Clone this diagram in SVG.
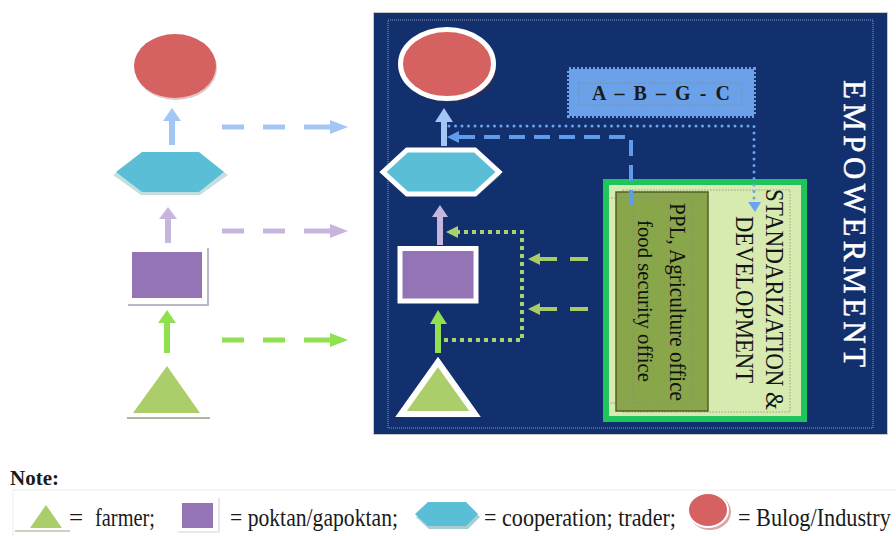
<svg xmlns="http://www.w3.org/2000/svg" width="896" height="536" viewBox="0 0 896 536">
<style>
.serif{font-family:"Liberation Serif","Times New Roman",serif}
.wb{stroke:#ffffff;stroke-width:5}
.frame{fill:none;stroke:#8c8c8c;stroke-width:0.8;stroke-dasharray:1.5 1.5}
.leg{font-family:"Liberation Serif","Times New Roman",serif;font-size:25px;fill:#1a1a1a}
</style>
<rect width="896" height="536" fill="#ffffff"/>

<!-- Empowerment panel -->
<g id="panel">
<rect x="373.5" y="12.5" width="514" height="422" fill="#13306e" stroke="#c8c8c8" stroke-width="1"/>
<rect x="388" y="20" width="485" height="408" fill="none" stroke="#8f98b5" stroke-width="1" stroke-dasharray="1 1"/>
<text class="serif" transform="translate(844,80) rotate(90)" font-size="31" fill="#ffffff" stroke="#ffffff" stroke-width="0.5" textLength="287" lengthAdjust="spacing">EMPOWERMENT</text>
</g>

<!-- Left column nodes -->
<g id="left-industry">
<ellipse cx="176" cy="68" rx="41" ry="32" fill="#c9a0a0" opacity="0.6"/>
<ellipse cx="175" cy="66" rx="41" ry="32" fill="#d66161"/>
</g>
<g id="left-cooperation">
<polygon points="113,175 141,155 200,155 228,175 200,195 141,195" fill="#9fc8cc" opacity="0.6"/>
<polygon points="116,172 142,152 199,152 224,172 199,192 142,192" fill="#5bbed7"/>
</g>
<g id="left-poktan">
<polyline points="128,305 208,305 208,248" fill="none" stroke="#c0b4cc" stroke-width="2"/>
<rect x="132" y="252" width="70" height="46" fill="#9474b4"/>
</g>
<g id="left-farmer">
<line x1="127" y1="418" x2="210" y2="418" stroke="#a9b89a" stroke-width="2"/>
<polygon points="167,366 133,413 200,413" fill="#abcd6a"/>
</g>

<!-- Right column nodes (inside panel) -->
<g id="industry">
<ellipse cx="449" cy="67" rx="47" ry="35" fill="#4a2a45"/>
<ellipse cx="447" cy="64" rx="46.5" ry="34.5" fill="#d66161" class="wb"/>
</g>
<g id="cooperation">
<polygon points="385,175 409,154 477,154 501,175 477,196 409,196" fill="#2e6e84"/>
<polygon points="383,172 407,150 475,150 499,172 475,194 407,194" fill="#5bbed7" class="wb"/>
</g>
<g id="poktan">
<rect x="402" y="250" width="76" height="53" fill="#3a3258"/>
<rect x="400" y="248.5" width="76" height="52.5" fill="#9474b4" class="wb"/>
</g>
<g id="farmer">
<polygon points="440,365 404,418 476,418" fill="#2c3a4e"/>
<polygon points="438,362 401,414 475,414" fill="#abcd6a" stroke="#ffffff" stroke-width="6" stroke-linejoin="miter"/>
</g>

<g id="abgc">
<rect x="569" y="69" width="185" height="47" fill="#6aa1e8" stroke="#6aa1e8" stroke-width="4" stroke-dasharray="2 2"/>
<rect x="579" y="83" width="163" height="22" class="frame" stroke="#666"/>
<text class="serif" x="592" y="100" font-size="20" font-weight="bold" fill="#1a1a1a" textLength="138" lengthAdjust="spacing">A – B – G - C</text>
</g>

<g id="standardization">
<rect x="606" y="182" width="198" height="237" fill="#d7eaaf" stroke="#1ec45c" stroke-width="6"/>
<rect x="623" y="190" width="167" height="222" class="frame"/>
<rect x="616" y="192" width="92" height="219" fill="#8aa64b" stroke="#4f5f28" stroke-width="1.5"/>
<rect x="608" y="198" width="84" height="205" class="frame"/>
<line x1="633" y1="198" x2="633" y2="403" class="frame"/>
<text class="serif" transform="translate(766,189) rotate(90)" font-size="26" fill="#141414" textLength="221" lengthAdjust="spacingAndGlyphs">STANDARIZATION &amp;</text>
<text class="serif" transform="translate(736,216) rotate(90)" font-size="26" fill="#141414" textLength="167" lengthAdjust="spacingAndGlyphs">DEVELOPMENT</text>
<text class="serif" transform="translate(670,203) rotate(90)" font-size="23" fill="#111111" textLength="198" lengthAdjust="spacingAndGlyphs">PPL, Agriculture office</text>
<text class="serif" transform="translate(638,220) rotate(90)" font-size="22" fill="#111111" textLength="162" lengthAdjust="spacingAndGlyphs">food security office</text>
</g>

<!-- Connectors -->
<g id="connectors">
<!-- left block arrows -->
<polygon points="169,145 169,121 163,121 172,108 181,121 175,121 175,145" fill="#a3c6f5"/>
<polygon points="165,243 165,219 159,219 168,207 177,219 171,219 171,243" fill="#c6b6de"/>
<polygon points="164,353 164,323 158,323 167,310 176,323 170,323 170,353" fill="#90e04f"/>
<!-- left dashed arrows -->
<line x1="222" y1="127" x2="332" y2="127" stroke="#a3c6f5" stroke-width="5" stroke-dasharray="22 19 22 19 28"/>
<polygon points="330,120 348,127 330,134" fill="#a3c6f5"/>
<line x1="222" y1="231" x2="332" y2="231" stroke="#c6b6de" stroke-width="5" stroke-dasharray="22 19 22 19 28"/>
<polygon points="330,224 348,231 330,238" fill="#c6b6de"/>
<line x1="222" y1="340" x2="332" y2="340" stroke="#90e04f" stroke-width="5" stroke-dasharray="22 19 22 19 28"/>
<polygon points="330,333 348,340 330,347" fill="#90e04f"/>
<!-- right block arrows -->
<polygon points="441,146 441,122 435,122 444,108 453,122 447,122 447,146" fill="#a3c6f5"/>
<polygon points="437,245 437,217 432,217 440,205 448,217 443,217 443,245" fill="#c6b6de"/>
<polygon points="435,353 435,324 430,324 438,310 447,324 441,324 441,353" fill="#90e04f"/>
<!-- dotted blue -->
<path d="M449 126 H754 V203" fill="none" stroke="#6aa4ee" stroke-width="3" stroke-linecap="round" stroke-dasharray="0 6.5"/>
<polygon points="748,202 761,202 755,212" fill="#6aa4ee"/>
<!-- dashed blue -->
<path d="M631 206 V137 H458" fill="none" stroke="#5e9ce9" stroke-width="4" stroke-dasharray="16 9"/>
<polygon points="447,137 459,131 459,143" fill="#5e9ce9"/>
<!-- dotted green -->
<path d="M456 232 H522 V340 H443" fill="none" stroke="#a9d36f" stroke-width="4" stroke-dasharray="4 4"/>
<polygon points="446,232 458,226 458,238" fill="#a9d36f"/>
<!-- dashed green from box -->
<line x1="536" y1="259" x2="588" y2="259" stroke="#a7cc66" stroke-width="4" stroke-dasharray="21 13 18"/>
<polygon points="528,259 540,253 540,265" fill="#a7cc66"/>
<line x1="536" y1="309" x2="588" y2="309" stroke="#a7cc66" stroke-width="4" stroke-dasharray="21 13 18"/>
<polygon points="528,309 540,303 540,315" fill="#a7cc66"/>
</g>

<!-- Legend -->
<g id="legend">
<text class="serif" x="10" y="485" font-size="21" font-weight="bold" fill="#1a1a1a">Note:</text>
<path d="M13 536 V490 H896" fill="none" stroke="#ececec" stroke-width="1"/>
<line x1="15" y1="531" x2="70" y2="531" stroke="#b7c4a8" stroke-width="1.5"/>
<polygon points="46,505 30,528 62,528" fill="#abcd6a"/>
<text class="leg"><tspan x="69" y="526">=</tspan><tspan x="95" y="526" textLength="60" lengthAdjust="spacingAndGlyphs">farmer;</tspan></text>
<polyline points="178,532 219,532 219,498" fill="none" stroke="#d8d4de" stroke-width="1.2"/>
<rect x="182" y="503" width="31" height="25" fill="#9474b4"/>
<text class="leg" x="230" y="526" textLength="168" lengthAdjust="spacingAndGlyphs">= poktan/gapoktan;</text>
<polygon points="416,517 429,506 468,506 480,517 468,529 429,529" fill="#a8cdd2"/>
<polygon points="415,514 428,502 466,502 478,514 466,526 428,526" fill="#5bbed7"/>
<text class="leg" x="484" y="526" textLength="192" lengthAdjust="spacingAndGlyphs">= cooperation; trader;</text>
<ellipse cx="710" cy="512" rx="21" ry="18" fill="#d9a6a6"/>
<ellipse cx="708" cy="510" rx="20" ry="17" fill="#d66161" stroke="#ffffff" stroke-width="2"/>
<text class="leg" transform="translate(738,526) scale(0.89,1)" x="0" y="0">= Bulog/Industry</text>
</g>
</svg>
